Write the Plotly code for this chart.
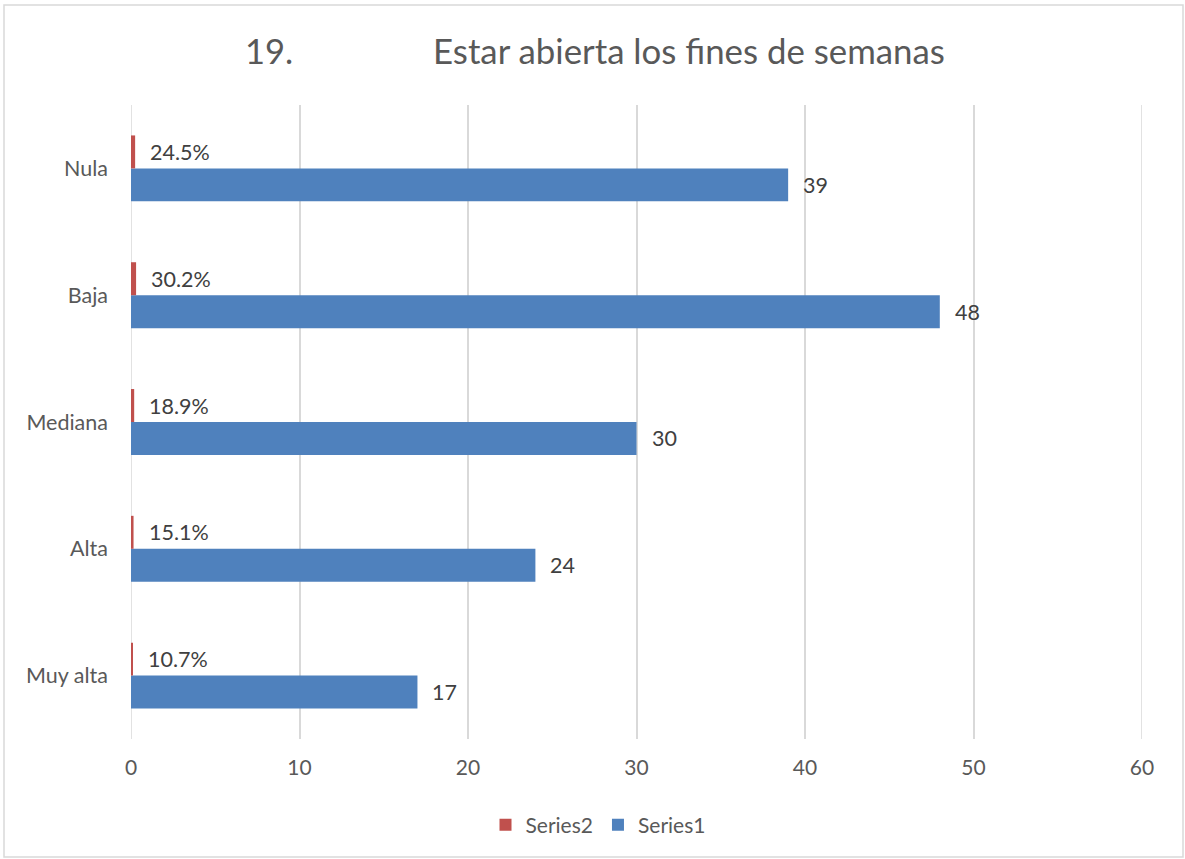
import plotly.graph_objects as go

categories = ["Muy alta", "Alta", "Mediana", "Baja", "Nula"]
series1 = [17, 24, 30, 48, 39]
series2 = [0.107, 0.151, 0.189, 0.302, 0.245]
series1_labels = ["17", "24", "30", "48", "39"]
series2_labels = ["10.7%", "15.1%", "18.9%", "30.2%", "24.5%"]
x_ticks = [0, 10, 20, 30, 40, 50, 60]
title_number = "19."
title_main = "Estar abierta los fines de semanas"

BLUE = "#4F81BD"
RED = "#C0504D"
FONT = "Lato"
GRID = "#D9D9D9"

# plot area in page pixels
PX0, PX1, PY0, PY1 = 131, 1142, 105, 739
W, H = 1185, 859


def px(x):
    return (x - PX0) / (PX1 - PX0)


def py(y):
    return (PY1 - y) / (PY1 - PY0)


fig = go.Figure()
fig.add_trace(go.Bar(y=categories, x=series1, orientation="h", name="Series1",
                     marker=dict(color=BLUE, line=dict(width=0))))
fig.add_trace(go.Bar(y=categories, x=series2, orientation="h", name="Series2",
                     marker=dict(color=RED, line=dict(width=0))))

half = (1 - 0.48) / 4
annotations = []
for i, (v, t) in enumerate(zip(series1, series1_labels)):
    annotations.append(dict(x=v, y=i - half, xref="x", yref="y", text=t, showarrow=False,
                            xanchor="left", yanchor="middle", xshift=13,
                            font=dict(family=FONT, size=21.5, color="#404040")))
for i, (v, t) in enumerate(zip(series2, series2_labels)):
    annotations.append(dict(x=v, y=i + half, xref="x", yref="y", text=t, showarrow=False,
                            xanchor="left", yanchor="middle", xshift=13,
                            font=dict(family=FONT, size=21.5, color="#404040")))

annotations.append(dict(x=px(243), y=py(50), xref="paper", yref="paper", text=title_number,
                        showarrow=False, xanchor="left", yanchor="middle",
                        font=dict(family=FONT, size=34.5, color="#595959")))
annotations.append(dict(x=px(947), y=py(50), xref="paper", yref="paper", text=title_main,
                        showarrow=False, xanchor="right", yanchor="middle",
                        font=dict(family=FONT, size=34.8, color="#595959")))

fig.update_layout(
    width=W, height=H,
    margin=dict(l=PX0, r=W - PX1, t=PY0, b=H - PY1),
    paper_bgcolor="white", plot_bgcolor="white",
    barmode="group", bargap=0.48, bargroupgap=0,
    xaxis=dict(range=[0, 60], tickvals=x_ticks, showgrid=True, gridcolor=GRID, gridwidth=1.5,
               zeroline=False, showline=False, ticks="", ticklabelstandoff=14,
               tickfont=dict(family=FONT, size=21, color="#595959")),
    yaxis=dict(categoryorder="array", categoryarray=categories, showgrid=False, zeroline=False,
               showline=False, ticks="", ticklabelstandoff=22,
               tickfont=dict(family=FONT, size=21.5, color="#595959")),
    legend=dict(orientation="h", x=px(598), xanchor="center", y=py(825), yanchor="middle",
                traceorder="reversed", font=dict(family=FONT, size=21, color="#595959")),
    annotations=annotations,
    shapes=[dict(type="rect", xref="paper", yref="paper",
                 x0=px(4), x1=px(1183), y0=py(857), y1=py(5),
                 line=dict(color=GRID, width=1.5), layer="below")],
)
fig.add_vline(x=x_ticks[0], line=dict(color=GRID, width=1.5), layer="below")
fig.add_vline(x=x_ticks[-1], line=dict(color=GRID, width=1.5), layer="below")

fig.write_html("out.html", config={"displayModeBar": False},
               post_script="document.body.style.margin='0';document.body.style.overflow='hidden';")
